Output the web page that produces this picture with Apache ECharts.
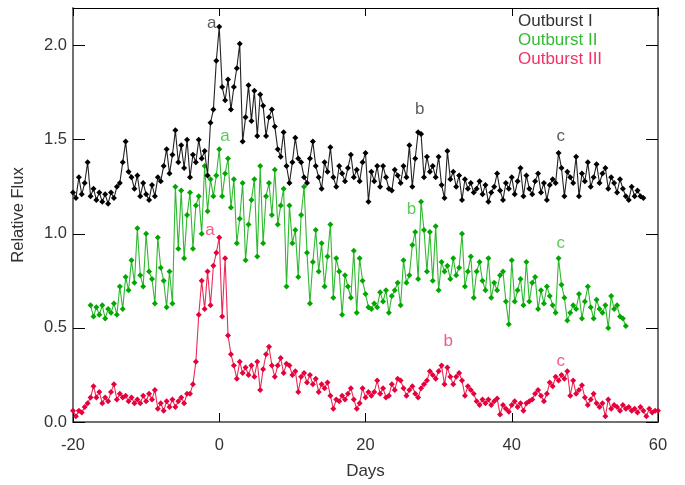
<!DOCTYPE html>
<html><head><meta charset="utf-8">
<script src="https://cdn.jsdelivr.net/npm/echarts@6/dist/echarts.min.js"></script>
<style>html,body{margin:0;padding:0;background:#fff}#c{width:685px;height:485px}</style>
</head><body><div id="c"></div>
<script>
// sampling days (shared by all three light curves)
const days = [
-20,-19.6,-19.2,-18.8,-18.4,-18,-17.6,-17.2,-16.8,-16.4,
-16,-15.6,-15.2,-14.8,-14.4,-14,-13.6,-13.2,-12.8,-12.4,
-12,-11.6,-11.2,-10.8,-10.4,-10,-9.6,-9.2,-8.8,-8.4,
-8,-7.6,-7.2,-6.8,-6.4,-6,-5.6,-5.2,-4.8,-4.4,
-4,-3.6,-3.2,-2.8,-2.4,-2,-1.6,-1.2,-0.8,-0.4,
0,0.4,0.8,1.2,1.6,2,2.4,2.8,3.2,3.6,
4,4.4,4.8,5.2,5.6,6,6.4,6.8,7.2,7.6,
8,8.4,8.8,9.2,9.6,10,10.4,10.8,11.2,11.6,
12,12.4,12.8,13.2,13.6,14,14.4,14.8,15.2,15.6,
16,16.4,16.8,17.2,17.6,18,18.4,18.8,19.2,19.6,
20,20.4,20.8,21.2,21.6,22,22.4,22.8,23.2,23.6,
24,24.4,24.8,25.2,25.6,26,26.4,26.8,27.2,27.6,
28,28.4,28.8,29.2,29.6,30,30.4,30.8,31.2,31.6,
32,32.4,32.8,33.2,33.6,34,34.4,34.8,35.2,35.6,
36,36.4,36.8,37.2,37.6,38,38.4,38.8,39.2,39.6,
40,40.4,40.8,41.2,41.6,42,42.4,42.8,43.2,43.6,
44,44.4,44.8,45.2,45.6,46,46.4,46.8,47.2,47.6,
48,48.4,48.8,49.2,49.6,50,50.4,50.8,51.2,51.6,
52,52.4,52.8,53.2,53.6,54,54.4,54.8,55.2,55.6,
56,56.4,56.8,57.2,57.6,58,58.4,58.8,59.2,59.6,
60];

const outburstI = [
1.22,1.19,1.30,1.21,1.27,1.38,1.20,1.24,1.18,1.22,
1.17,1.21,1.16,1.22,1.19,1.25,1.27,1.38,1.49,1.33,
1.30,1.24,1.31,1.20,1.27,1.21,1.18,1.26,1.20,1.30,
1.28,1.36,1.45,1.32,1.42,1.55,1.38,1.47,1.35,1.50,
1.30,1.42,1.38,1.50,1.40,1.44,1.31,1.59,1.66,1.92,
2.10,1.78,1.71,1.82,1.66,1.78,1.88,2.01,1.49,1.62,
1.79,1.60,1.76,1.52,1.74,1.68,1.52,1.62,1.66,1.57,
1.45,1.41,1.54,1.36,1.27,1.38,1.51,1.40,1.38,1.30,
1.27,1.40,1.49,1.36,1.30,1.24,1.38,1.33,1.46,1.30,
1.25,1.36,1.32,1.28,1.35,1.42,1.30,1.34,1.28,1.38,
1.43,1.17,1.33,1.28,1.36,1.25,1.36,1.30,1.24,1.23,
1.34,1.31,1.27,1.36,1.30,1.47,1.25,1.40,1.54,1.53,
1.30,1.41,1.33,1.36,1.30,1.41,1.26,1.19,1.44,1.29,
1.33,1.25,1.31,1.18,1.29,1.24,1.27,1.22,1.24,1.28,
1.21,1.26,1.17,1.22,1.25,1.32,1.23,1.18,1.27,1.24,
1.30,1.21,1.28,1.35,1.20,1.31,1.24,1.21,1.28,1.32,
1.22,1.27,1.18,1.26,1.29,1.27,1.43,1.35,1.20,1.33,
1.30,1.27,1.41,1.20,1.32,1.28,1.38,1.25,1.30,1.37,
1.27,1.32,1.35,1.24,1.30,1.27,1.22,1.29,1.24,1.20,
1.18,1.25,1.20,1.23,1.20,1.19,null,null,null,null,
null];

const outburstII = [
null,null,null,null,null,null,0.62,0.56,0.61,0.57,
0.62,0.55,0.60,0.58,0.63,0.57,0.72,0.60,0.77,0.70,
0.86,0.74,1.03,0.78,0.72,1.00,0.80,0.76,0.63,0.98,
0.82,0.75,0.61,0.80,0.63,1.25,0.92,1.23,0.87,1.10,
1.22,0.92,1.15,1.20,1.00,1.36,1.12,1.29,1.20,1.31,
1.45,1.20,1.32,1.40,1.14,1.29,0.95,1.08,1.27,0.86,
1.05,1.18,1.29,0.88,1.36,0.95,1.20,1.27,1.10,1.34,
1.05,1.15,1.24,0.72,1.15,0.95,1.02,0.77,1.10,1.25,
0.90,0.63,0.85,1.02,0.80,0.95,0.72,0.88,1.05,0.66,
0.87,0.80,0.57,0.78,0.72,0.66,0.91,0.58,0.87,0.75,
0.68,0.61,0.60,0.63,0.61,0.69,0.64,0.70,0.58,0.67,
0.70,0.74,0.62,0.86,0.74,0.78,0.94,1.01,0.76,1.17,
1.02,0.80,1.01,0.75,1.04,0.70,0.85,0.80,0.83,0.76,
0.87,0.78,0.82,1.00,0.72,0.80,0.88,0.66,0.80,0.85,
0.75,0.70,0.87,0.66,0.74,0.70,0.78,0.80,0.64,0.52,
0.86,0.64,0.70,0.76,0.62,0.85,0.64,0.74,0.77,0.60,
0.70,0.63,0.72,0.67,0.62,0.58,0.87,0.73,0.66,0.54,
0.58,0.62,0.60,0.68,0.55,0.64,0.72,0.61,0.55,0.65,
0.60,0.58,0.62,0.50,0.67,0.60,0.62,0.56,0.55,0.51,
null,null,null,null,null,null,null,null,null,null,
null];

const outburstIII = [
0.06,0.03,0.06,0.05,0.08,0.10,0.13,0.19,0.13,0.16,
0.10,0.13,0.11,0.16,0.20,0.12,0.15,0.13,0.14,0.11,
0.13,0.10,0.12,0.10,0.14,0.11,0.15,0.12,0.17,0.07,
0.10,0.06,0.11,0.08,0.12,0.08,0.11,0.13,0.10,0.15,
0.15,0.20,0.32,0.57,0.75,0.60,0.80,0.62,0.83,0.90,
0.98,0.56,0.87,0.46,0.36,0.30,0.23,0.32,0.26,0.29,
0.25,0.30,0.24,0.32,0.17,0.28,0.36,0.40,0.30,0.24,
0.30,0.34,0.26,0.31,0.30,0.25,0.27,0.16,0.24,0.26,
0.21,0.25,0.20,0.23,0.16,0.20,0.18,0.21,0.14,0.07,
0.12,0.11,0.14,0.12,0.15,0.18,0.12,0.07,0.10,0.18,
0.13,0.16,0.14,0.16,0.22,0.15,0.18,0.13,0.14,0.20,
0.17,0.23,0.22,0.18,0.14,0.17,0.19,0.15,0.13,0.18,
0.20,0.22,0.27,0.25,0.23,0.27,0.30,0.20,0.29,0.24,
0.20,0.24,0.26,0.22,0.14,0.19,0.17,0.15,0.11,0.09,
0.12,0.10,0.12,0.09,0.11,0.125,0.04,0.09,0.07,0.055,
0.09,0.11,0.08,0.10,0.06,0.10,0.11,0.12,0.15,0.17,
0.14,0.11,0.15,0.21,0.19,0.24,0.22,0.25,0.23,0.27,
0.14,0.22,0.15,0.17,0.195,0.13,0.09,0.12,0.15,0.10,
0.08,0.10,0.03,0.12,0.07,0.09,0.08,0.06,0.09,0.07,
0.08,0.06,0.07,0.05,0.08,0.06,0.03,0.07,0.05,0.06,
0.06];

const seriesNames = ['Outburst I', 'Outburst II', 'Outburst III'];
const xTicks = [-20, 0, 20, 40, 60];
const yTicks = [0, 0.5, 1.0, 1.5, 2.0];
// event markers: [day, flux, text]
const notesI = [[-1.04, 2.12, 'a'], [27.4, 1.66, 'b'], [46.7, 1.52, 'c']];
const notesII = [[0.78, 1.52, 'a'], [26.3, 1.13, 'b'], [46.7, 0.95, 'c']];
const notesIII = [[-1.27, 1.02, 'a'], [31.3, 0.43, 'b'], [46.7, 0.32, 'c']];

const markColors = ['#000000', '#00a800', '#e6003c'];
const lineColors = ['#222222', '#30b830', '#ec2a58'];
const textColors = ['#333333', '#33bb33', '#ee3366'];

function pairs(vals) {
  return days.map((d, i) => [d, vals[i]]).filter(p => p[1] !== null);
}
function curve(name, vals, k) {
  return {
    name: name, type: 'line', data: pairs(vals),
    symbol: 'diamond', symbolSize: 6, showAllSymbol: true,
    itemStyle: { color: markColors[k] },
    lineStyle: { color: lineColors[k], width: 1.1 },
    emphasis: { disabled: true }, z: 3 - k
  };
}
function notes(list, k) {
  return {
    type: 'scatter', symbolSize: 0, silent: true,
    data: list.map(n => ({ value: [n[0], n[1]], name: n[2] })),
    label: { show: true, position: 'inside', formatter: p => p.name,
      color: textColors[k], fontSize: 17, fontFamily: 'Liberation Sans' }
  };
}

const chart = echarts.init(document.getElementById('c'), null, { renderer: 'canvas' });
const axisFont = { fontFamily: 'Liberation Sans', fontSize: 16.5, color: '#333' };
chart.setOption({
  animation: false,
  backgroundColor: '#fff',
  grid: { left: 73, right: 27, top: 8, bottom: 61 },
  legend: {
    data: seriesNames.map((n, k) => ({ name: n, textStyle: { color: textColors[k] } })),
    orient: 'vertical', left: 513, top: 12, padding: 0, itemGap: 0,
    icon: 'none', itemWidth: 0, itemHeight: 19, selectedMode: false,
    textStyle: { fontFamily: 'Liberation Sans', fontSize: 17, lineHeight: 19 }
  },
  xAxis: [
    { type: 'value', position: 'bottom', min: -20, max: 60, interval: 20,
      name: 'Days', nameLocation: 'middle', nameGap: 41,
      nameTextStyle: { fontFamily: 'Liberation Sans', fontSize: 17, color: '#333' },
      axisLine: { onZero: false, lineStyle: { color: '#707070', width: 2 } },
      axisTick: { inside: true, length: 9, lineStyle: { color: '#000', width: 1 } },
      axisLabel: Object.assign({ margin: 15, formatter: v => xTicks.includes(v) ? String(v) : '' }, axisFont),
      splitLine: { show: false } },
    { type: 'value', position: 'top', min: -20, max: 60, interval: 20,
      axisLine: { onZero: false, lineStyle: { color: '#000', width: 1 } },
      axisTick: { inside: true, length: 8, lineStyle: { color: '#000', width: 1 } },
      axisLabel: { show: false }, splitLine: { show: false } }
  ],
  yAxis: [
    { type: 'value', position: 'left', min: 0, max: 2.2, interval: 0.5,
      name: 'Relative Flux', nameLocation: 'middle', nameGap: 46,
      nameTextStyle: { fontFamily: 'Liberation Sans', fontSize: 16.5, color: '#333' },
      axisLine: { show: true, onZero: false, lineStyle: { color: '#707070', width: 2 } },
      axisTick: { show: true, inside: true, length: 12, lineStyle: { color: '#000', width: 1 } },
      axisLabel: Object.assign({ margin: 6, formatter: v => yTicks.includes(v) ? v.toFixed(1) : '' }, axisFont),
      splitLine: { show: false } },
    { type: 'value', position: 'right', min: 0, max: 2.2, interval: 0.5,
      axisLine: { show: true, onZero: false, lineStyle: { color: '#707070', width: 2 } },
      axisTick: { show: true, inside: true, length: 12, lineStyle: { color: '#000', width: 1 } },
      axisLabel: { show: false }, splitLine: { show: false } }
  ],
  series: [
    curve(seriesNames[0], outburstI, 0),
    curve(seriesNames[1], outburstII, 1),
    curve(seriesNames[2], outburstIII, 2),
    notes(notesI, 0), notes(notesII, 1), notes(notesIII, 2)
  ]
});
</script>
</body></html>
